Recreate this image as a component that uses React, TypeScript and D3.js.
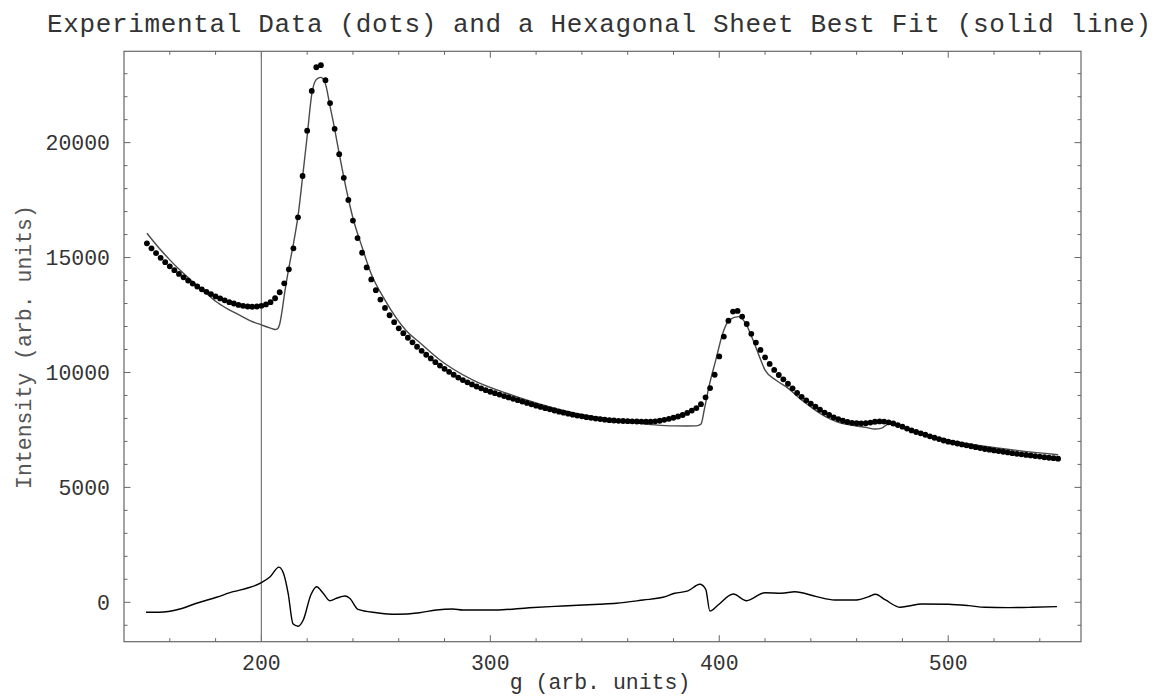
import React from 'react';
import * as d3 from 'd3';

const title = 'Experimental Data (dots) and a Hexagonal Sheet Best Fit (solid line)';
const xLabel = 'g (arb. units)';
const yLabel = 'Intensity (arb. units)';

// experimental intensities, one dot every 2 units of g starting at 150
const dataStart = 150;
const dataStep = 2;
const dataIntensity = [
  15620, 15400, 15190, 14990, 14800, 14620, 14450, 14290, 14140, 14000, // 150-168
  13870, 13740, 13620, 13510, 13410, 13310, 13220, 13140, 13060, 13000, // 170-188
  12940, 12900, 12870, 12860, 12870, 12900, 12960, 13060, 13230, 13490, // 190-208
  13880, 14490, 15400, 16750, 18550, 20520, 22250, 23280, 23370, 22720, // 210-228
  21720, 20600, 19500, 18470, 17510, 16610, 15850, 15210, 14570, 14050, // 230-248
  13580, 13170, 12810, 12490, 12190, 11920, 11710, 11510, 11310, 11120, // 250-268
  10940, 10770, 10610, 10450, 10300, 10160, 10030, 9900, 9780, 9670,    // 270-288
  9570, 9480, 9390, 9310, 9230, 9160, 9100, 9040, 8975, 8915,           // 290-308
  8855, 8795, 8735, 8675, 8615, 8555, 8500, 8445, 8395, 8345,           // 310-328
  8295, 8250, 8205, 8165, 8125, 8090, 8055, 8025, 7995, 7970,           // 330-348
  7945, 7925, 7910, 7898, 7888, 7880, 7872, 7866, 7862, 7860,           // 350-368
  7862, 7875, 7900, 7940, 7985, 8030, 8085, 8150, 8240, 8340,           // 370-388
  8450, 8620, 8920, 9320, 9900, 10700, 11560, 12250, 12650, 12680,      // 390-408
  12430, 12110, 11680, 11300, 10980, 10660, 10370, 10110, 9890, 9700,   // 410-428
  9510, 9310, 9110, 8940, 8790, 8640, 8510, 8380, 8255, 8150,           // 430-448
  8050, 7970, 7900, 7850, 7810, 7790, 7785, 7790, 7820, 7855,           // 450-468
  7870, 7865, 7830, 7780, 7710, 7640, 7560, 7480, 7410, 7350,           // 470-488
  7290, 7220, 7160, 7100, 7040, 6990, 6950, 6910, 6870, 6830,           // 490-508
  6790, 6750, 6710, 6670, 6640, 6610, 6580, 6550, 6520, 6490,           // 510-528
  6460, 6440, 6410, 6390, 6360, 6340, 6310, 6290, 6270, 6250            // 530-548
];

// best fit curve
const fitG = [
  150, 155, 160, 165, 170, 175, 180, 185, 190, 195, 200, 204, 206, 207, 208, 209, 210,
  212, 214, 216, 218, 220, 222, 224, 226, 228, 230, 232, 234, 236, 238, 240, 244, 248,
  254, 263, 270, 278, 292, 307, 321, 336, 350, 365, 372, 380, 386, 390, 392, 393.5,
  395.5, 398.5, 401.5, 404.5, 408.5, 411.5, 415, 417.5, 420, 425, 430, 435, 440, 446,
  452, 458, 464, 468, 471, 474, 477, 480, 486, 500, 515, 530, 548
];
const fitIntensity = [
  16060, 15450, 14900, 14400, 13950, 13530, 13100, 12780, 12520, 12260, 12070, 11930, 11870, 11900, 12100, 12650, 13350,
  14550, 15600, 16800, 18500, 20280, 22100, 22750, 22840, 22550, 21580, 20600, 19520, 18500, 17560, 16720, 15450, 14280,
  13150, 11850, 11230, 10545, 9690, 9096, 8640, 8252, 8008, 7790, 7720, 7675, 7670, 7675, 7750, 8400,
  9380, 10545, 11700, 12290, 12430, 12140, 11350, 10700, 10100, 9650, 9320, 8880, 8500, 8100,
  7830, 7700, 7610, 7540, 7580, 7760, 7720, 7620, 7420, 7063, 6800, 6610, 6420
];

// residual (data minus fit)
const residG = [
  149.6, 155.4, 164.4, 172, 180.4, 187.7, 194, 200, 203.7, 207.7, 209.8, 211.7, 213.8,
  216.1, 218.3, 221.6, 224.1, 227, 229.9, 232.8, 236.5, 238.6, 242.2, 250.3, 259, 269.1,
  276.4, 283.6, 288, 302.5, 317, 331.6, 347.6, 355, 366.8, 375.4, 380.5, 386.3, 391.5,
  394.1, 395.9, 399.5, 406.1, 411.9, 419.9, 427.2, 433, 442.5, 450.4, 459.9, 465.3,
  468.2, 472.6, 479.1, 482.7, 488.5, 500.1, 508.9, 516.1, 526.3, 536.5, 547.5
];
const residValue = [
  -435, -435, -292, -30, 218, 461, 620, 853, 1100, 1530, 1220, 390, -930,
  -1040, -770, 318, 679, 392, 70, 174, 274, 174, -305, -453, -522, -453,
  -335, -292, -335, -335, -235, -161, -87, -44, 100, 218, 392, 494, 783,
  566, -379, -117, 361, 70, 418, 392, 461, 244, 100, 100, 244,
  348, 100, -218, -160, -74, -87, -145, -218, -232, -218, -190
];

const xTicks = [200, 300, 400, 500];
const yTicks = [0, 5000, 10000, 15000, 20000];
const markerG = 200;

const font = '"Liberation Mono", "Courier New", monospace';

export default function App() {
  const width = 1155;
  const height = 698;
  const left = 124, right = 1081, top = 51.3, bottom = 641.7;

  const x = d3.scaleLinear().domain([140, 558]).range([left, right]);
  const y = d3.scaleLinear().domain([-1715, 23975]).range([bottom, top]);

  const xMinor = d3.range(160, 560, 20).filter(v => !xTicks.includes(v));
  const yMinor = d3.range(-1000, 24000, 1000).filter(v => !yTicks.includes(v));

  const dots = dataIntensity.map((v, i) => ({ g: dataStart + i * dataStep, v }));
  const fit = fitG.map((g, i) => ({ g, v: fitIntensity[i] }));
  const resid = residG.map((g, i) => ({ g, v: residValue[i] }));

  const fitLine = d3.line<{ g: number; v: number }>()
    .x(d => x(d.g))
    .y(d => y(d.v))
    .curve(d3.curveMonotoneX);

  const residLine = d3.line<{ g: number; v: number }>()
    .x(d => x(d.g))
    .y(d => y(d.v))
    .curve(d3.curveMonotoneX);

  const axisColor = '#666';
  const major = 6.5;
  const minor = 3.5;

  return (
    <svg width={width} height={height} style={{ position: 'absolute', left: 0, top: 0, background: '#fff' }}>
      <text x={47} y={31.5} textLength={1104} lengthAdjust='spacing' fontFamily={font} fontSize={26} fill='#333'>{title}</text>

      {/* frame and ticks */}
      <rect x={left} y={top} width={right - left} height={bottom - top} fill='none' stroke={axisColor} strokeWidth={1.2}/>
      {xTicks.map(t => (
        <g key={'xt' + t}>
          <line x1={x(t)} x2={x(t)} y1={bottom} y2={bottom - major} stroke={axisColor}/>
          <line x1={x(t)} x2={x(t)} y1={top} y2={top + major} stroke={axisColor}/>
          <text x={x(t)} y={670} textAnchor='middle' fontFamily={font} fontSize={21.5} fill='#333'>{t}</text>
        </g>
      ))}
      {xMinor.map(t => (
        <g key={'xm' + t}>
          <line x1={x(t)} x2={x(t)} y1={bottom} y2={bottom - minor} stroke={axisColor}/>
          <line x1={x(t)} x2={x(t)} y1={top} y2={top + minor} stroke={axisColor}/>
        </g>
      ))}
      {yTicks.map(t => (
        <g key={'yt' + t}>
          <line x1={left} x2={left + major} y1={y(t)} y2={y(t)} stroke={axisColor}/>
          <line x1={right} x2={right - major} y1={y(t)} y2={y(t)} stroke={axisColor}/>
          <text x={110} y={y(t) + 7.5} textAnchor='end' fontFamily={font} fontSize={21.5} fill='#333'>{t}</text>
        </g>
      ))}
      {yMinor.map(t => (
        <g key={'ym' + t}>
          <line x1={left} x2={left + minor} y1={y(t)} y2={y(t)} stroke={axisColor}/>
          <line x1={right} x2={right - minor} y1={y(t)} y2={y(t)} stroke={axisColor}/>
        </g>
      ))}

      <text x={600} y={689} textAnchor='middle' fontFamily={font} fontSize={21.5} fill='#333'>{xLabel}</text>
      <text transform={`translate(31, 347) rotate(-90)`} textAnchor='middle' fontFamily={font} fontSize={21.5} fill='#555'>{yLabel}</text>

      {/* marker line at g = 200 */}
      <line x1={x(markerG)} x2={x(markerG)} y1={top} y2={bottom} stroke='#777' strokeWidth={1.2}/>

      <path d={fitLine(fit) || ''} fill='none' stroke='#4a4a4a' strokeWidth={1.4}/>
      {dots.map(d => (
        <circle key={'d' + d.g} cx={x(d.g)} cy={y(d.v)} r={2.9} fill='#000'/>
      ))}
      <path d={residLine(resid) || ''} fill='none' stroke='#000' strokeWidth={1.4}/>
    </svg>
  );
}
